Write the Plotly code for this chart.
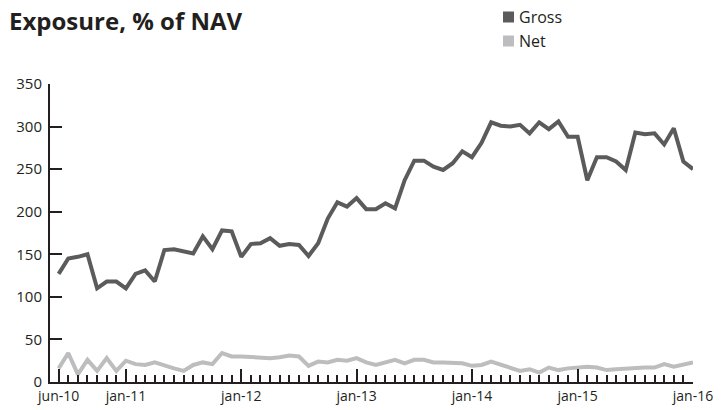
import plotly.graph_objects as go

# ---- data ----
months_2010 = ["jun-10", "jul-10", "aug-10", "sep-10", "okt-10", "nov-10", "dec-10"]
months_2011 = ["jan-11", "feb-11", "mar-11", "apr-11", "maj-11", "jun-11", "jul-11", "aug-11", "sep-11", "okt-11", "nov-11", "dec-11"]
months_2012 = ["jan-12", "feb-12", "mar-12", "apr-12", "maj-12", "jun-12", "jul-12", "aug-12", "sep-12", "okt-12", "nov-12", "dec-12"]
months_2013 = ["jan-13", "feb-13", "mar-13", "apr-13", "maj-13", "jun-13", "jul-13", "aug-13", "sep-13", "okt-13", "nov-13", "dec-13"]
months_2014 = ["jan-14", "feb-14", "mar-14", "apr-14", "maj-14", "jun-14", "aug-14", "sep-14", "okt-14", "nov-14", "dec-14"]
months_2015 = ["jan-15", "feb-15", "mar-15", "apr-15", "maj-15", "jun-15", "jul-15", "aug-15", "sep-15", "okt-15", "nov-15", "dec-15"]
months_2016 = ["jan-16"]
categories = months_2010 + months_2011 + months_2012 + months_2013 + months_2014 + months_2015 + months_2016

gross = [127, 145, 147, 150, 110, 118, 118, 110, 127, 131, 118, 155, 156, 154, 151, 171, 156, 178, 177,
         147, 162, 163, 169, 160, 162, 161, 148, 163, 192, 211, 206, 216, 203, 203, 210, 204,
         237, 260, 260, 253, 249, 257, 271, 264, 281, 305, 301, 300, 302, 292, 305, 297, 306, 288,
         288, 237, 264, 264, 259, 249, 293, 291, 292, 279, 298, 259, 250]
net = [16, 34, 9, 26, 13, 28, 13, 25, 21, 20, 23, 19, 16, 13, 20, 23, 21, 34, 30,
       30, 29, 29, 28, 29, 31, 30, 19, 24, 23, 26, 25, 28, 23, 20, 23, 26,
       22, 26, 26, 23, 23, 23, 22, 19, 20, 24, 20, 16, 13, 15, 11, 17, 14, 16,
       17, 18, 17, 14, 15, 16, 16, 17, 17, 21, 18, 21, 23]

tick_labels = ["jun-10", "jan-11", "jan-12", "jan-13", "jan-14", "jan-15", "jan-16"]
y_ticks = [0, 50, 100, 150, 200, 250, 300, 350]

series_names = ["Gross", "Net"]
series_colors = ["#5b5b5c", "#bdbdbf"]

x = list(range(len(categories)))
tick_pos = [categories.index(t) for t in tick_labels]

FONT = "Open Sans"
TXT = "#231f20"

# figure geometry (page body adds an 8px offset)
W, H = 717, 402
ML, MR, MT, MB = 42, 32, 76, 28
PW, PH = W - ML - MR, H - MT - MB


def px(xp):
    return (xp - ML) / PW


def py(yp):
    return 1 - (yp - MT) / PH


fig = go.Figure()
for name, vals, col in zip(series_names, [gross, net], series_colors):
    fig.add_trace(go.Scatter(x=x, y=vals, mode="lines", name=name,
                             line=dict(color=col, width=4), showlegend=False,
                             hoverinfo="skip"))

# legend: square swatch + label
for i, (name, col) in enumerate(zip(series_names, series_colors)):
    yc = 9 + 24 * i
    fig.add_shape(type="rect", xref="paper", yref="paper",
                  x0=px(495), x1=px(506), y0=py(yc - 5.5), y1=py(yc + 5.5),
                  fillcolor=col, line=dict(width=0))
    fig.add_annotation(
        xref="paper", yref="paper", x=px(509), y=py(yc),
        xanchor="left", yanchor="middle", showarrow=False,
        text=name, font=dict(family=FONT, size=16, color=TXT),
    )

fig.add_annotation(
    xref="paper", yref="paper", x=px(-1), y=py(12),
    xanchor="left", yanchor="middle", showarrow=False,
    text="<b>Exposure, % of NAV</b>",
    font=dict(family=FONT, size=24, color=TXT),
)

fig.update_layout(
    width=W, height=H,
    margin=dict(l=ML, r=MR, t=MT, b=MB, autoexpand=False),
    plot_bgcolor="white", paper_bgcolor="white",
    font=dict(family=FONT, size=14, color=TXT),
    showlegend=False,
)
fig.update_xaxes(
    range=[-0.9, len(categories) - 1], showgrid=False, zeroline=False,
    showline=True, linecolor=TXT, linewidth=2,
    tickmode="array", tickvals=tick_pos, ticktext=tick_labels, tickangle=0,
    ticks="inside", ticklen=13, tickwidth=2, tickcolor=TXT,
    minor=dict(ticks="inside", ticklen=7, tickwidth=2, tickcolor=TXT, dtick=1, tick0=0),
    tickfont=dict(size=14, color=TXT),
)
fig.update_yaxes(
    range=[0, 350], showgrid=False, zeroline=False,
    showline=True, linecolor=TXT, linewidth=2,
    tickmode="array", tickvals=y_ticks,
    ticks="inside", ticklen=12, tickwidth=2, tickcolor=TXT,
    tickfont=dict(size=15, color=TXT), ticklabelstandoff=3,
)

fig.write_html("out.html")
